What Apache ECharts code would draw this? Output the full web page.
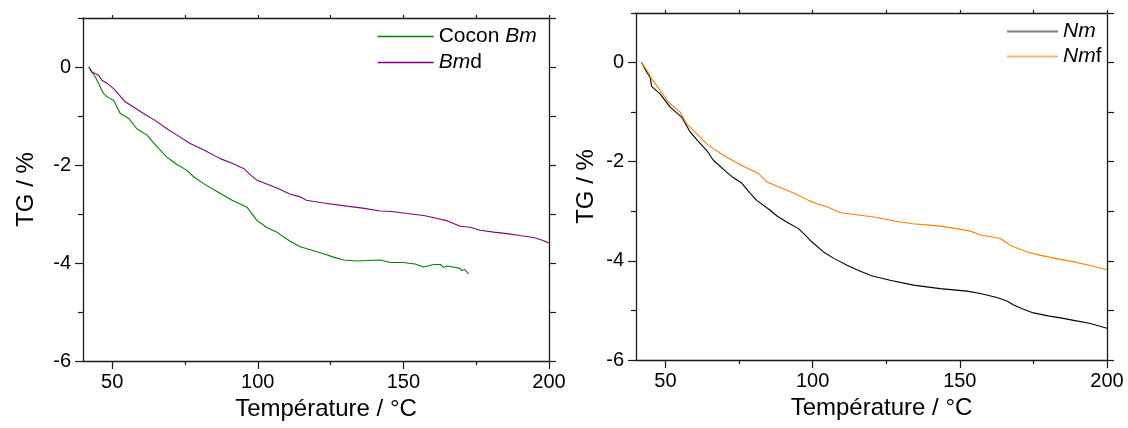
<!DOCTYPE html>
<html>
<head>
<meta charset="utf-8">
<script src="https://cdn.jsdelivr.net/npm/echarts@6/dist/echarts.min.js"></script>
<style>
html,body{margin:0;padding:0;background:#fff;}
#c{width:1128px;height:428px;}
</style>
</head>
<body>
<div id="c"></div>
<script>
// ---- Data ----
const coconBmT = [42,43,44.2,45.4,47,48.5,50.5,52.8,55.7,58.5,62,65,68.8,72,75.7,78,81.4,86,91.2,96.3,99.7,103,106.6,108.9,111,114.6,118,122.6,126,129.5,134,138,142,145.5,150,154,157,160.4,162.7,163.8,165,167,169.5,170,171,172.4];
const coconBmV = [0,-0.1,-0.2,-0.34,-0.54,-0.62,-0.68,-0.95,-1.05,-1.26,-1.39,-1.6,-1.84,-1.98,-2.11,-2.24,-2.38,-2.54,-2.72,-2.86,-3.13,-3.27,-3.37,-3.47,-3.55,-3.67,-3.73,-3.81,-3.88,-3.94,-3.96,-3.95,-3.94,-3.99,-3.99,-4.02,-4.08,-4.03,-4.03,-4.09,-4.06,-4.08,-4.11,-4.16,-4.13,-4.22];

const bmdT = [42,43,45.4,46.5,48.2,50.5,54.5,60.8,65,68.8,72,76.8,82,87.1,91,95.1,97.5,99.7,104,107.7,111,114.6,116.7,122,130.6,136,142,146,151.3,157,161,165,169.5,173,176.4,181,185.6,190,194.7,198,200];
const bmdV = [0,-0.1,-0.17,-0.27,-0.33,-0.44,-0.71,-0.95,-1.1,-1.26,-1.38,-1.56,-1.71,-1.87,-1.96,-2.07,-2.2,-2.31,-2.41,-2.5,-2.59,-2.65,-2.72,-2.77,-2.84,-2.88,-2.94,-2.95,-2.99,-3.03,-3.08,-3.14,-3.25,-3.27,-3.33,-3.37,-3.4,-3.44,-3.48,-3.54,-3.59];

const nmT = [41.9,43.4,44.8,45.3,48.2,51.6,55.5,58.4,61,64,66.3,70.8,73,75.9,78.8,81,85.6,88,91.3,95.2,97.5,99.8,103.7,107.2,111.7,115,120,126.3,134.3,143.3,152.4,157,162.6,166,168.3,171,175,180,184.2,188.7,194,200];
const nmV = [0,-0.17,-0.3,-0.48,-0.63,-0.9,-1.1,-1.4,-1.58,-1.77,-1.97,-2.21,-2.32,-2.43,-2.64,-2.78,-2.98,-3.1,-3.22,-3.35,-3.48,-3.62,-3.82,-3.95,-4.09,-4.18,-4.3,-4.39,-4.49,-4.56,-4.61,-4.66,-4.74,-4.81,-4.89,-4.96,-5.05,-5.11,-5.15,-5.2,-5.26,-5.36];

const nmfT = [41.9,44.2,45.3,48.7,51,55,57.2,60.6,64.6,70.8,76.5,81.6,84.5,89,93.5,98.6,101.5,104.9,109.4,116.3,121.4,128.2,134,139.6,143.4,148,153.6,157,163.8,167.2,172.9,177.4,184.2,188.7,194,200];
const nmfV = [0,-0.2,-0.33,-0.6,-0.8,-1.0,-1.23,-1.44,-1.67,-1.91,-2.09,-2.24,-2.41,-2.52,-2.63,-2.78,-2.85,-2.91,-3.03,-3.08,-3.12,-3.2,-3.25,-3.28,-3.3,-3.34,-3.4,-3.48,-3.55,-3.69,-3.82,-3.89,-3.97,-4.02,-4.09,-4.18];

const xMajorTicks = [50,100,150,200];
const xMinorTicks = [75,125,175];
const xAllTicks = [50,75,100,125,150,175,200];
const yMajorTicks = [0,-2,-4,-6];
const yMinorTicks = [1,-1,-3,-5];
const yAllTicks = [1,0,-1,-2,-3,-4,-5,-6];
const xName = 'Température / °C';
const yName = 'TG / %';
const legendLabels = {
  'Cocon Bm': 'Cocon {i|Bm}',
  'Bmd': '{i|Bm}d',
  'Nm': '{i|Nm}',
  'Nmf': '{i|Nm}f'
};

// ---- Chart ----
const FONT = "'Liberation Sans', Arial, sans-serif";
const AX = '#1a1a1a';
const pair = (t, v) => t.map((x, i) => [x, v[i]]);

function xAxes(grid) {
  const base = {gridIndex: grid, type: 'value', min: 40, max: 200, splitLine: {show: false}};
  return [
    Object.assign({}, base, {
      position: 'bottom',
      name: xName, nameLocation: 'middle', nameGap: 36,
      nameTextStyle: {fontFamily: FONT, fontSize: 24, color: '#000', padding: [0, 0, 0, 20]},
      axisLine: {show: true, onZero: false, lineStyle: {color: AX, width: 1.3}},
      axisTick: {show: true, inside: false, length: 8, customValues: xMajorTicks, lineStyle: {color: AX, width: 1.2}},
      axisLabel: {show: true, margin: 11, customValues: xMajorTicks, fontFamily: FONT, fontSize: 20, color: '#000'}
    }),
    Object.assign({}, base, {
      position: 'bottom',
      axisLine: {show: false, onZero: false},
      axisTick: {show: true, inside: false, length: 4, customValues: xMinorTicks, lineStyle: {color: AX, width: 1.2}},
      axisLabel: {show: false}
    }),
    Object.assign({}, base, {
      position: 'top',
      axisLine: {show: true, onZero: false, lineStyle: {color: AX, width: 1.3}},
      axisTick: {show: true, inside: false, length: 3, customValues: xAllTicks, lineStyle: {color: AX, width: 1.2}},
      axisLabel: {show: false}
    })
  ];
}

function yAxes(grid, gap) {
  const base = {gridIndex: grid, type: 'value', min: -6, max: 1, splitLine: {show: false}};
  return [
    Object.assign({}, base, {
      position: 'left',
      name: yName, nameLocation: 'middle', nameGap: gap, nameRotate: 90,
      nameTextStyle: {fontFamily: FONT, fontSize: 24, color: '#000'},
      axisLine: {show: true, onZero: false, lineStyle: {color: AX, width: 1.3}},
      axisTick: {show: true, inside: false, length: 8, customValues: yMajorTicks, lineStyle: {color: AX, width: 1.2}},
      axisLabel: {show: true, margin: 12, customValues: yMajorTicks, fontFamily: FONT, fontSize: 20, color: '#000'}
    }),
    Object.assign({}, base, {
      position: 'left',
      axisLine: {show: false, onZero: false},
      axisTick: {show: true, inside: false, length: 5, customValues: yMinorTicks, lineStyle: {color: AX, width: 1.2}},
      axisLabel: {show: false}
    }),
    Object.assign({}, base, {
      position: 'right',
      axisLine: {show: true, onZero: false, lineStyle: {color: AX, width: 1.3}},
      axisTick: {show: true, inside: false, length: 7, customValues: yAllTicks, lineStyle: {color: AX, width: 1.2}},
      axisLabel: {show: false}
    })
  ];
}

function lineSeries(name, t, v, color, xi, yi) {
  return {
    name: name, type: 'line', xAxisIndex: xi, yAxisIndex: yi,
    data: pair(t, v), symbol: 'none', showSymbol: false, smooth: false,
    lineStyle: {color: color, width: 1.1}, itemStyle: {color: color},
    animation: false
  };
}

const richI = {i: {fontStyle: 'italic', fontFamily: FONT, fontSize: 21, color: '#000'}};

const option = {
  backgroundColor: '#fff',
  animation: false,
  grid: [
    {left: 83, top: 18, width: 466, height: 343},
    {left: 636, top: 13, width: 471, height: 347}
  ],
  xAxis: xAxes(0).concat(xAxes(1)),
  yAxis: yAxes(0, 45).concat(yAxes(1, 38)),
  legend: [
    {
      orient: 'vertical', left: 377, top: 26, align: 'left', padding: 0,
      itemWidth: 56, itemHeight: 14, itemGap: 5,
      itemStyle: {opacity: 0},
      data: [
        {name: 'Cocon Bm', lineStyle: {color: '#008000', width: 1.3}},
        {name: 'Bmd', lineStyle: {color: '#800080', width: 1.3}}
      ],
      formatter: n => legendLabels[n],
      textStyle: {fontFamily: FONT, fontSize: 21, color: '#000', lineHeight: 21, rich: richI}
    },
    {
      orient: 'vertical', left: 1006, top: 21, align: 'left', padding: 0,
      itemWidth: 51, itemHeight: 14, itemGap: 4,
      itemStyle: {opacity: 0},
      data: [
        {name: 'Nm', lineStyle: {color: '#808080', width: 2}},
        {name: 'Nmf', lineStyle: {color: '#ffb366', width: 2}}
      ],
      formatter: n => legendLabels[n],
      textStyle: {fontFamily: FONT, fontSize: 21, color: '#000', lineHeight: 21, rich: richI}
    }
  ],
  series: [
    lineSeries('Cocon Bm', coconBmT, coconBmV, '#008000', 0, 0),
    lineSeries('Bmd', bmdT, bmdV, '#800080', 0, 0),
    lineSeries('Nm', nmT, nmV, '#000000', 3, 3),
    lineSeries('Nmf', nmfT, nmfV, '#ff8000', 3, 3)
  ]
};

const chart = echarts.init(document.getElementById('c'), null, {renderer: 'canvas'});
chart.setOption(option);
</script>
</body>
</html>
